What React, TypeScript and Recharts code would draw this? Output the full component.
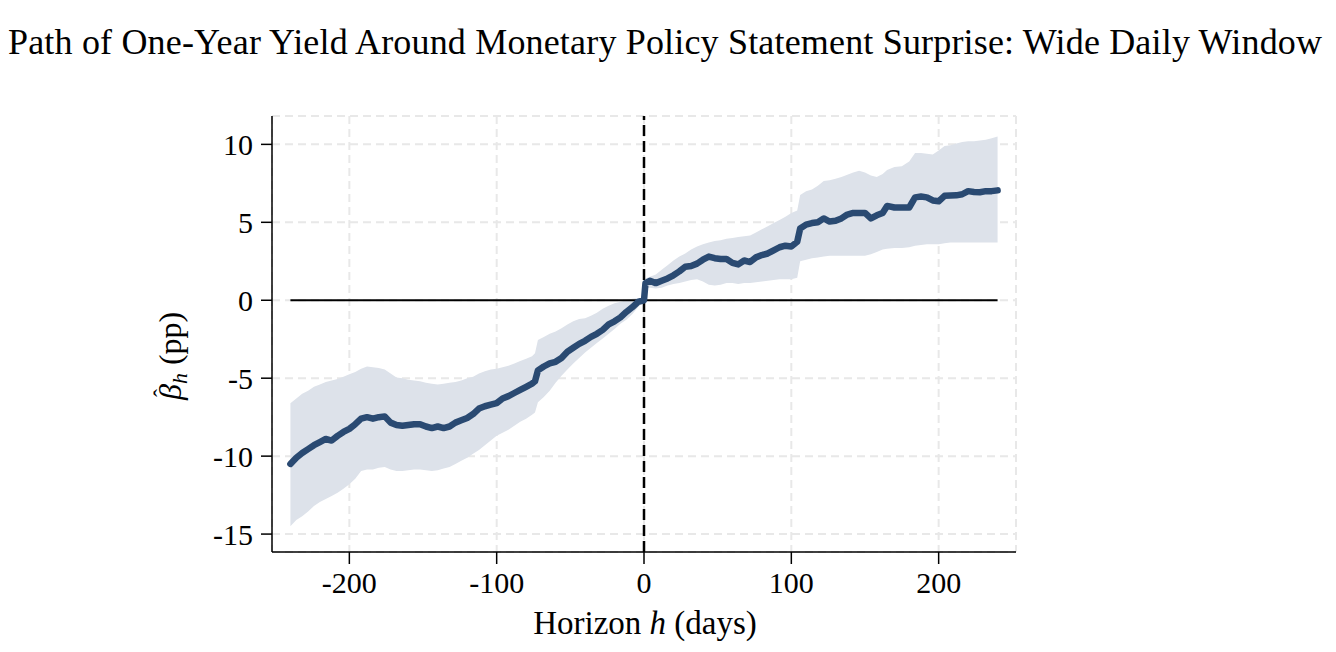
import React from 'react';
import {
  ComposedChart,
  Area,
  Line,
  XAxis,
  YAxis,
  CartesianGrid,
  ReferenceLine,
} from 'recharts';

// horizon in days around the statement
const horizon = [
  -240, -236, -232, -228, -224, -220, -216, -212, -208, -204, -200, -196, -192, -188, -184, -180, -176, -172, -168, -164,
  -160, -156, -152, -148, -144, -140, -136, -132, -128, -124, -120, -116, -112, -108, -104, -100, -96, -92, -88, -84,
  -80, -76, -74, -72, -68, -64, -60, -56, -52, -48, -44, -40, -36, -32, -28, -24, -20, -16, -12, -8, -4, 0,
  1, 4, 8, 12, 16, 20, 24, 28, 32, 36, 40, 44, 48, 52, 56, 60, 64, 68, 72, 76, 80, 84, 88, 92, 96, 100, 104,
  106, 110, 114, 118, 122, 126, 130, 134, 138, 142, 146, 150, 154, 158, 162, 165, 170, 175, 180,
  184, 188, 192, 196, 200, 204, 208, 212, 216, 220, 224, 228, 232, 236, 240,
];

// beta_h point estimates (pp)
const estimate = [
  -10.5, -10.1, -9.8, -9.55, -9.3, -9.1, -8.9, -9.0, -8.7, -8.45, -8.25, -7.95, -7.6, -7.5, -7.6, -7.5, -7.45, -7.85, -8.0, -8.05,
  -8.0, -7.95, -7.95, -8.1, -8.2, -8.1, -8.2, -8.1, -7.85, -7.7, -7.55, -7.3, -6.95, -6.8, -6.7, -6.6, -6.3, -6.15, -5.95, -5.75,
  -5.55, -5.35, -5.2, -4.5, -4.25, -4.05, -3.95, -3.7, -3.3, -3.05, -2.8, -2.6, -2.35, -2.15, -1.9, -1.55, -1.35, -1.1, -0.75, -0.45, -0.1, 0,
  1.1, 1.25, 1.1, 1.25, 1.4, 1.6, 1.85, 2.15, 2.2, 2.35, 2.6, 2.8, 2.7, 2.65, 2.65, 2.4, 2.3, 2.55, 2.45, 2.75, 2.9, 3.0, 3.2, 3.4, 3.5, 3.45, 3.75,
  4.6, 4.85, 4.95, 5.0, 5.25, 5.05, 5.1, 5.25, 5.5, 5.6, 5.6, 5.6, 5.25, 5.45, 5.6, 6.05, 5.95, 5.95, 5.95,
  6.6, 6.65, 6.6, 6.4, 6.35, 6.7, 6.72, 6.73, 6.8, 7.0, 6.95, 6.93, 7.0, 7.0, 7.05,
];

const ciLower = [
  -14.5, -14.1, -13.85, -13.55, -13.2, -12.95, -12.75, -12.55, -12.35, -12.1, -11.8, -11.45, -10.95, -10.85, -10.85, -10.75, -10.7, -10.85, -10.95, -10.95,
  -10.9, -10.85, -10.85, -10.9, -10.95, -10.9, -10.8, -10.7, -10.5, -10.3, -10.1, -9.85, -9.6, -9.3, -9.0, -8.7, -8.5, -8.3, -8.05, -7.8,
  -7.6, -7.35, -7.2, -6.55, -6.2, -5.8, -5.3, -4.85, -4.45, -4.05, -3.7, -3.35, -3.05, -2.75, -2.45, -2.15, -1.85, -1.5, -1.25, -0.9, -0.45, 0,
  0.75, 0.8, 0.75, 0.8, 0.95, 1.05, 1.1, 1.2, 1.3, 1.35, 1.2, 1.0, 0.95, 1.0, 1.1, 1.1, 1.05, 1.1, 1.1, 1.15, 1.2, 1.25, 1.3, 1.35, 1.35, 1.35, 1.45,
  2.5, 2.6, 2.7, 2.75, 2.8, 2.85, 2.85, 2.85, 2.85, 2.85, 2.85, 2.85, 2.95, 3.1, 3.25, 3.3, 3.35, 3.35, 3.4,
  3.5, 3.55, 3.6, 3.6, 3.6, 3.65, 3.7, 3.7, 3.7, 3.7, 3.7, 3.7, 3.7, 3.7, 3.7,
];

const ciUpper = [
  -6.6, -6.3, -6.0, -5.8, -5.55, -5.4, -5.25, -5.15, -5.05, -4.9, -4.75, -4.6, -4.4, -4.25, -4.3, -4.35, -4.45, -4.7, -4.95, -5.0,
  -5.1, -5.15, -5.2, -5.3, -5.35, -5.4, -5.35, -5.3, -5.25, -5.15, -5.0, -4.9, -4.7, -4.55, -4.45, -4.4, -4.3, -4.2, -4.05, -3.9,
  -3.75, -3.6, -3.4, -2.55, -2.35, -2.15, -2.0, -1.8, -1.55, -1.35, -1.2, -1.15, -1.0, -0.8, -0.55, -0.35, -0.2, -0.1, 0.0, 0.1, 0.15, 0,
  1.4, 1.5, 1.65, 1.95, 2.25, 2.55, 2.8, 3.0, 3.25, 3.45, 3.6, 3.7, 3.8, 3.85, 3.95, 4.0, 4.05, 4.1, 4.15, 4.35, 4.55, 4.75, 4.95, 5.15, 5.35, 5.6, 5.75,
  6.75, 7.0, 7.1, 7.35, 7.65, 7.7, 7.8, 7.9, 8.05, 8.2, 8.3, 8.2, 8.0, 7.9, 8.1, 8.35, 8.55, 8.6, 8.9,
  9.45, 9.45, 9.4, 9.35, 9.6, 9.9, 9.95, 10.05, 10.15, 10.2, 10.2, 10.25, 10.3, 10.4, 10.5,
];

const xTicks = [-200, -100, 0, 100, 200];
const yTicks = [-15, -10, -5, 0, 5, 10];

const FONT = "'Liberation Serif', 'DejaVu Serif', serif";
const LINE = '#2a4a72';
const BAND = '#dde2ea';

export default function App() {
  const data = horizon.map((h, i) => ({ h, est: estimate[i], band: [ciLower[i], ciUpper[i]] }));
  const tick = { fontSize: 30, fill: '#000', fontFamily: FONT };

  return (
    <div style={{ position: 'absolute', left: 0, top: 0, width: 1336, height: 652, background: '#fff' }}>
      <ComposedChart width={1336} height={652} data={data} margin={{ top: 116, right: 320, bottom: 0, left: 0 }}>
        <CartesianGrid stroke="#e8e8e8" strokeDasharray="8 5" strokeWidth={2} />
        <XAxis
          type="number"
          dataKey="h"
          domain={[-252.5, 252.5]}
          ticks={xTicks}
          allowDataOverflow
          height={100}
          tickSize={12}
          tickMargin={8}
          tick={tick}
          axisLine={{ stroke: '#000', strokeWidth: 1.5 }}
          tickLine={{ stroke: '#000', strokeWidth: 1.5 }}
        />
        <YAxis
          type="number"
          domain={[-16.15, 11.82]}
          ticks={yTicks}
          allowDataOverflow
          width={272}
          tickSize={11}
          tickMargin={8}
          tick={tick}
          axisLine={{ stroke: '#000', strokeWidth: 1.5 }}
          tickLine={{ stroke: '#000', strokeWidth: 1.5 }}
        />
        <Area type="linear" dataKey="band" fill={BAND} fillOpacity={1} stroke="none" isAnimationActive={false} />
        <ReferenceLine segment={[{ x: -240, y: 0 }, { x: 240, y: 0 }]} stroke="#000" strokeWidth={2} />
        <ReferenceLine x={0} stroke="#000" strokeWidth={2.5} strokeDasharray="11 5" />
        <Line
          type="linear"
          dataKey="est"
          stroke={LINE}
          strokeWidth={6.5}
          strokeLinecap="round"
          strokeLinejoin="round"
          dot={false}
          isAnimationActive={false}
        />
      </ComposedChart>
      <svg width={1336} height={652} style={{ position: 'absolute', left: 0, top: 0, pointerEvents: 'none' }}>
        <text x={665} y={54} textAnchor="middle" fontSize={36} fontFamily={FONT} fill="#000" textLength={1314} lengthAdjust="spacing">
          Path of One-Year Yield Around Monetary Policy Statement Surprise: Wide Daily Window
        </text>
        <text x={645} y={634} textAnchor="middle" fontSize={33} fontFamily={FONT} fill="#000">
          Horizon <tspan fontStyle="italic">h</tspan> (days)
        </text>
        <g transform="rotate(-90 181 354)">
          <text x={135} y={354} textAnchor="start" fontSize={32} fontFamily={FONT} fill="#000">
            <tspan fontStyle="italic">β</tspan>
            <tspan fontStyle="italic" fontSize={22} dy={6}>h</tspan>
            <tspan dy={-6}> (pp)</tspan>
          </text>
          <text x={138} y={343} textAnchor="start" fontSize={24} fontFamily={FONT} fill="#000">ˆ</text>
        </g>
      </svg>
    </div>
  );
}
